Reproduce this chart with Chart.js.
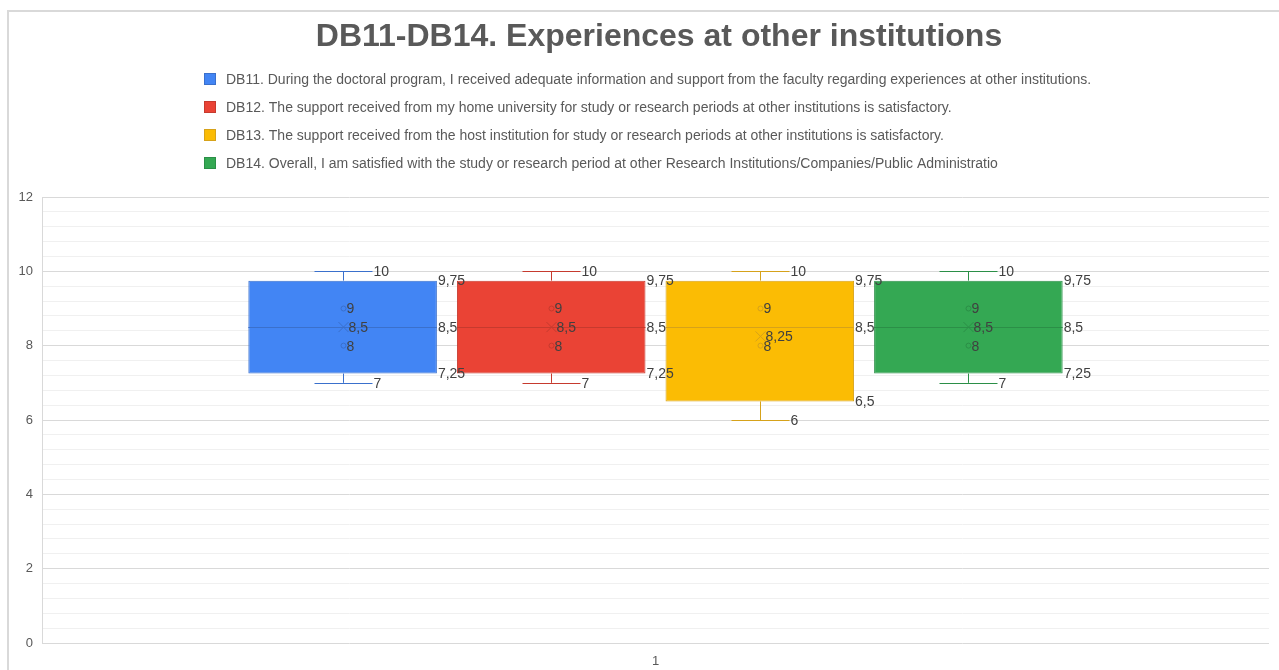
<!DOCTYPE html>
<html>
<head>
<meta charset="utf-8">
<title>DB11-DB14. Experiences at other institutions</title>
<script src="https://cdn.jsdelivr.net/npm/chart.js@4.4.1/dist/chart.umd.min.js"></script>
<style>
    html, body { margin: 0; padding: 0; background: #fff; overflow: hidden; }
    #wrap { width: 1279px; height: 670px; position: relative; }
</style>
</head>
<body>
<div id="wrap"><canvas id="grafico"></canvas></div>
<script>
// ------------------ DADOS ------------------
const chartTitle = "DB11-DB14. Experiences at other institutions";
const categories = ["1"];
const seriesNames = [
    "DB11. During the doctoral program, I received adequate information and support from the faculty regarding experiences at other institutions.",
    "DB12. The support received from my home university for study or research periods at other institutions is satisfactory.",
    "DB13. The support received from the host institution for study or research periods at other institutions is satisfactory.",
    "DB14. Overall, I am satisfied with the study or research period at other Research Institutions/Companies/Public Administratio"
];
const minValues    = [7, 7, 6, 7];
const q1Values     = [7.25, 7.25, 6.5, 7.25];
const medianValues = [8.5, 8.5, 8.5, 8.5];
const q3Values     = [9.75, 9.75, 9.75, 9.75];
const maxValues    = [10, 10, 10, 10];
const meanValues   = [8.5, 8.5, 8.25, 8.5];
const innerPoints  = [[9, 8], [9, 8], [9, 8], [9, 8]];
const yTicks = [0, 2, 4, 6, 8, 10, 12];

const fillColors = ["#4285F4", "#EA4335", "#FBBC04", "#34A853"];
const lineColors = ["#3A70CC", "#C63A2E", "#D6A21A", "#2B8F47"];

const FONT = "'Liberation Sans', Arial, sans-serif";
const fmt = v => String(v).replace(".", ",");

// ------------------ PLUGINS ------------------
// moldura, título e legenda
const decoracao = {
    id: "decoracao",
    beforeDraw(chart) {
        const ctx = chart.ctx;
        ctx.save();
        ctx.fillStyle = "#fff";
        ctx.fillRect(0, 0, chart.width, chart.height);
        ctx.strokeStyle = "#d9d9d9";
        ctx.lineWidth = 2;
        ctx.beginPath();
        ctx.moveTo(8, chart.height);
        ctx.lineTo(8, 11);
        ctx.lineTo(chart.width, 11);
        ctx.stroke();
        ctx.restore();
    },
    afterDraw(chart) {
        const ctx = chart.ctx;
        ctx.save();
        ctx.fillStyle = "#595959";
        ctx.font = "bold 32px " + FONT;
        ctx.textAlign = "center";
        ctx.textBaseline = "middle";
        ctx.fillText(chartTitle, 659, 37);

        ctx.font = "14px " + FONT;
        ctx.textAlign = "left";
        seriesNames.forEach((name, i) => {
            const y = 79 + i * 28;
            ctx.fillStyle = fillColors[i];
            ctx.fillRect(204, y - 6, 12, 12);
            ctx.strokeStyle = lineColors[i];
            ctx.lineWidth = 1;
            ctx.strokeRect(204.5, y - 5.5, 11, 11);
            ctx.fillStyle = "#595959";
            ctx.fillText(name, 226, y + 1);
        });
        ctx.restore();
    }
};

// bigodes, mediana, média, pontos e rótulos de cada caixa
const caixas = {
    id: "caixas",
    afterDatasetsDraw(chart) {
        const ctx = chart.ctx;
        const yScale = chart.scales.y;
        ctx.save();
        ctx.font = "14px " + FONT;
        ctx.textBaseline = "middle";
        ctx.textAlign = "left";

        chart.data.datasets.forEach((ds, i) => {
            const bar = chart.getDatasetMeta(i).data[0];
            if (!bar) return;
            const cx = Math.round(bar.x) + 0.5;
            const left = bar.x - bar.width / 2;
            const right = bar.x + bar.width / 2;
            const yMin = yScale.getPixelForValue(minValues[i]);
            const yMax = yScale.getPixelForValue(maxValues[i]);
            const yQ1 = yScale.getPixelForValue(q1Values[i]);
            const yQ3 = yScale.getPixelForValue(q3Values[i]);
            const yMed = yScale.getPixelForValue(medianValues[i]);
            const yMean = yScale.getPixelForValue(meanValues[i]);
            const cap = 29;

            ctx.strokeStyle = lineColors[i];
            ctx.lineWidth = 1;
            ctx.beginPath();
            // bigodes
            ctx.moveTo(cx, yQ3); ctx.lineTo(cx, yMax);
            ctx.moveTo(cx - cap, Math.round(yMax) + 0.5); ctx.lineTo(cx + cap, Math.round(yMax) + 0.5);
            ctx.moveTo(cx, yQ1); ctx.lineTo(cx, yMin);
            ctx.moveTo(cx - cap, Math.round(yMin) + 0.5); ctx.lineTo(cx + cap, Math.round(yMin) + 0.5);
            // mediana
            ctx.moveTo(left, Math.round(yMed) + 0.5); ctx.lineTo(right, Math.round(yMed) + 0.5);
            // média (X)
            ctx.moveTo(cx - 5, yMean - 5); ctx.lineTo(cx + 5, yMean + 5);
            ctx.moveTo(cx - 5, yMean + 5); ctx.lineTo(cx + 5, yMean - 5);
            ctx.stroke();

            // pontos internos
            innerPoints[i].forEach(v => {
                const py = yScale.getPixelForValue(v);
                ctx.beginPath();
                ctx.arc(cx, py, 2.5, 0, Math.PI * 2);
                ctx.stroke();
            });

            // rótulos
            ctx.fillStyle = "#404040";
            ctx.fillText(fmt(maxValues[i]), cx + cap + 1, yMax + 1);
            ctx.fillText(fmt(minValues[i]), cx + cap + 1, yMin + 1);
            ctx.fillText(fmt(q3Values[i]), right + 1, yQ3 + 1);
            ctx.fillText(fmt(medianValues[i]), right + 1, yMed + 1);
            ctx.fillText(fmt(q1Values[i]), right + 1, yQ1 + 1);
            ctx.fillText(fmt(meanValues[i]), cx + 5, yMean + 1);
            innerPoints[i].forEach(v => {
                ctx.fillText(fmt(v), cx + 3, yScale.getPixelForValue(v) + 1);
            });
        });
        ctx.restore();
    }
};

// ------------------ GRÁFICO ------------------
const isMajor = v => yTicks.some(t => Math.abs(t - v) < 1e-6);

new Chart(document.getElementById("grafico"), {
    type: "bar",
    data: {
        labels: categories,
        datasets: seriesNames.map((name, i) => ({
            label: name,
            data: [[q1Values[i], q3Values[i]]],
            backgroundColor: fillColors[i],
            borderColor: lineColors[i],
            borderWidth: 1,
            borderSkipped: false,
            categoryPercentage: 0.68,
            barPercentage: 0.904
        }))
    },
    options: {
        responsive: true,
        maintainAspectRatio: false,
        animation: false,
        layout: { padding: { top: 197, right: 10, left: 0, bottom: 0 } },
        plugins: {
            legend: { display: false },
            title: { display: false },
            tooltip: { enabled: false }
        },
        scales: {
            x: {
                grid: { display: false, drawTicks: false },
                border: { display: false },
                ticks: { color: "#595959", font: { family: FONT, size: 13 }, padding: 11 },
                afterFit: s => { s.height = 27; }
            },
            y: {
                min: 0,
                max: 12,
                border: { display: true, color: "#d9d9d9" },
                grid: {
                    drawTicks: false,
                    color: c => isMajor(c.tick.value) ? "#d9d9d9" : "#f0f0f0"
                },
                ticks: {
                    stepSize: 0.4,
                    autoSkip: false,
                    padding: 9,
                    color: "#595959",
                    font: { family: FONT, size: 13 },
                    callback: v => isMajor(v) ? String(Math.round(v)) : ""
                },
                afterFit: s => { s.width = 42; }
            }
        }
    },
    plugins: [decoracao, caixas]
});
</script>
</body>
</html>
